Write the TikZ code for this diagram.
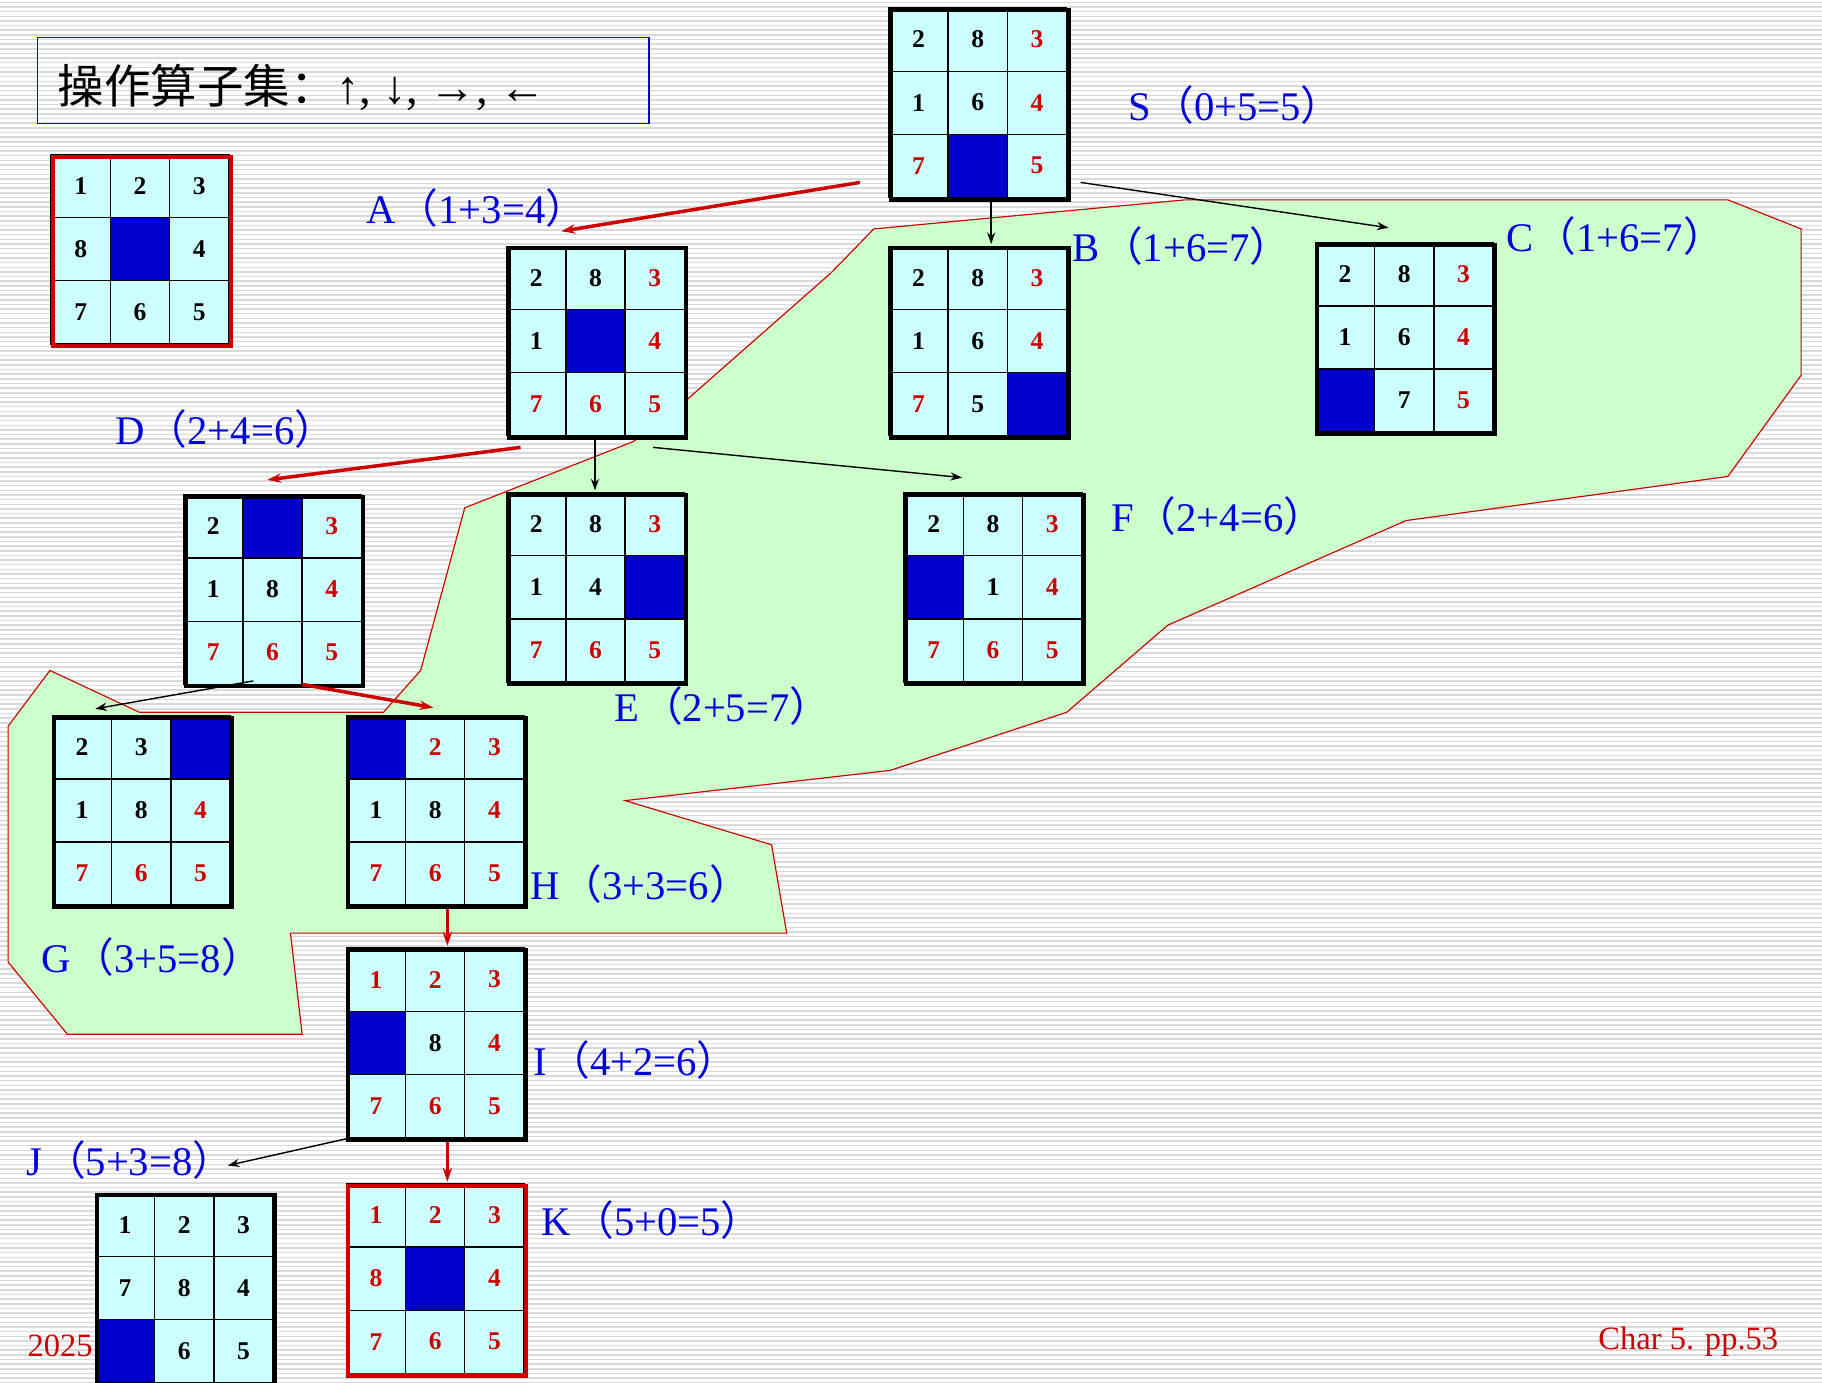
\documentclass[tikz,border=0pt]{standalone}
\usepackage{fontspec}
\setmainfont{Liberation Serif}
\newfontfamily\cjk{Noto Sans CJK SC}
\usetikzlibrary{arrows.meta}
\definecolor{cellcyan}{RGB}{204,255,255}
\definecolor{blankblue}{RGB}{0,0,204}
\definecolor{numred}{RGB}{204,0,0}
\definecolor{lblblue}{RGB}{0,0,220}
\definecolor{zonegreen}{RGB}{204,255,204}
\tikzset{every picture/.style={line width=0.75pt}}
\tikzset{
  lbl/.style={anchor=west,inner sep=0.75pt,text=lblblue,font=\fontsize{35}{37}\selectfont},
  blackarr/.style={-{Stealth[length=10pt,width=7pt]},line width=1.2pt},
  redarr/.style={-{Stealth[length=12pt,width=8pt]},line width=3pt,color=numred},
}
% one 8-puzzle board: name, x, y, frame colour, cells value/colour (0 = blank)
\newcommand{\puzzle}[5]{%
  \foreach \v/\c [count=\i from 0] in {#5}{%
    \pgfmathtruncatemacro{\col}{mod(\i,3)}%
    \pgfmathtruncatemacro{\row}{\i/3}%
    \pgfmathsetmacro{\cx}{#2+51*\col}%
    \pgfmathsetmacro{\cy}{#3+54.3*\row}%
    \ifnum\v=0
      \draw[fill=blankblue,line width=1.2pt] (\cx,\cy) rectangle ++(51,54.3);
    \else
      \draw[fill=cellcyan,line width=1.2pt] (\cx,\cy) rectangle ++(51,54.3);
      \node[text=\c,font=\bfseries\fontsize{22}{24}\selectfont] at (\cx+25.5,\cy+27) {\v};
    \fi
  }%
  \node[draw=#4,line width=3.5pt,minimum width=153pt,minimum height=163pt,
        anchor=north west,inner sep=0pt] (#1) at (#2,#3) {};
}
\newcommand{\pl}[1]{\hspace{2pt}{\cjk（}#1{\cjk ）}}
\begin{document}
\begin{tikzpicture}[x=1pt,y=1pt,yscale=-1]
\useasboundingbox (0,0) rectangle (1568,1190);
\fill[white] (0,0) rectangle (1568,1190);
\foreach \y in {2,6,...,1190}
  \draw[gray!30,line width=1.3pt] (0,\y) -- (1568,\y);

% shaded zone
\draw[numred,fill=zonegreen,line width=1pt] (752,197) -- (1020,172) -- (1487,172) -- (1550,197)
  -- (1550,323) -- (1487,410) -- (1210,448) -- (1005,538) -- (918,613) -- (766,663)
  -- (538,689) -- (664,727) -- (677,803) -- (250,803) -- (260,890) -- (58,890)
  -- (7,828) -- (7,625) -- (43,577) -- (120,613) -- (330,613) -- (362,577)
  -- (400,437) -- (545,380) -- (590,345) -- (715,235) -- cycle;

% operator box
\node[draw=lblblue,line width=1pt,minimum width=526pt,minimum height=74pt,anchor=north west,
      inner sep=0pt] (ops) at (32,32) {};
\node[anchor=west,font=\fontsize{40}{42}\selectfont] (opstext) at (46,75) {{\cjk 操作算子集：}↑, ↓, →, ←};

\node[anchor=west,text=numred,font=\fontsize{28}{30}\selectfont] (year) at (20,1158) {2025};
\node[anchor=east,text=numred,font=\fontsize{28}{30}\selectfont] (page) at (1534,1155) {Char 5. pp.53};

\puzzle{goal}{44}{133}{numred}{1/black,2/black,3/black,8/black,0/black,4/black,7/black,6/black,5/black}
\puzzle{S}{765}{7}{black}{2/black,8/black,3/numred,1/black,6/black,4/numred,7/numred,0/black,5/numred}
\puzzle{A}{436}{212}{black}{2/black,8/black,3/numred,1/black,0/black,4/numred,7/numred,6/numred,5/numred}
\puzzle{B}{765}{212}{black}{2/black,8/black,3/numred,1/black,6/black,4/numred,7/numred,5/black,0/black}
\puzzle{C}{1132}{209}{black}{2/black,8/black,3/numred,1/black,6/black,4/numred,0/black,7/black,5/numred}
\puzzle{D}{158}{426}{black}{2/black,0/black,3/numred,1/black,8/black,4/numred,7/numred,6/numred,5/numred}
\puzzle{E}{436}{424}{black}{2/black,8/black,3/numred,1/black,4/black,0/black,7/numred,6/numred,5/numred}
\puzzle{F}{778}{424}{black}{2/black,8/black,3/numred,0/black,1/black,4/numred,7/numred,6/numred,5/numred}
\puzzle{G}{45}{616}{black}{2/black,3/black,0/black,1/black,8/black,4/numred,7/numred,6/numred,5/numred}
\puzzle{H}{298}{616}{black}{0/black,2/numred,3/numred,1/black,8/black,4/numred,7/numred,6/numred,5/numred}
\puzzle{I}{298}{816}{black}{1/numred,2/numred,3/numred,0/black,8/black,4/numred,7/numred,6/numred,5/numred}
\puzzle{J}{82}{1027}{black}{1/black,2/black,3/black,7/black,8/black,4/black,0/black,6/black,5/black}
\puzzle{K}{298}{1019}{numred}{1/numred,2/numred,3/numred,8/numred,0/black,4/numred,7/numred,6/numred,5/numred}

% labels
\node[lbl] (lS) at (970,90) {S\pl{0+5=5}};
\node[lbl] (lA) at (314,179) {A\pl{1+3=4}};
\node[lbl] (lB) at (922,212) {B\pl{1+6=7}};
\node[lbl] (lC) at (1295,203) {C\pl{1+6=7}};
\node[lbl] (lD) at (98,369) {D\pl{2+4=6}};
\node[lbl] (lE) at (528,608) {E\pl{2+5=7}};
\node[lbl] (lF) at (955,444) {F\pl{2+4=6}};
\node[lbl] (lG) at (35,824) {G\pl{3+5=8}};
\node[lbl] (lH) at (455,761) {H\pl{3+3=6}};
\node[lbl] (lI) at (458,912) {I\pl{4+2=6}};
\node[lbl] (lJ) at (22,998) {J\pl{5+3=8}};
\node[lbl] (lK) at (465,1050) {K\pl{5+0=5}};

% search edges
\coordinate (sa) at (740,157); \coordinate (ta) at (483,199);
\coordinate (sc) at (930,157); \coordinate (tc) at (1195,196);
\coordinate (ad) at (448,385); \coordinate (td) at (230,413);
\coordinate (af) at (562,385); \coordinate (tf) at (828,411);
\coordinate (dg) at (218,586); \coordinate (tg) at (82,610);
\coordinate (dh) at (260,589); \coordinate (th) at (373,609);
\coordinate (ij) at (298,980); \coordinate (tj) at (196,1003);
\draw[redarr] (sa) -- (ta);
\draw[blackarr] (S.south -| 853,0) -- ([yshift=-2pt]B.north -| 853,0);
\draw[blackarr] (sc) -- (tc);
\draw[redarr] (ad) -- (td);
\draw[blackarr] (512,377) -- ([yshift=-2pt]E.north -| 512,0);
\draw[blackarr] (af) -- (tf);
\draw[blackarr] (dg) -- (tg);
\draw[redarr] (dh) -- (th);
\draw[redarr] (H.south -| 385,0) -- ([yshift=-2pt]I.north -| 385,0);
\draw[blackarr] (ij) -- (tj);
\draw[redarr] (I.south -| 385,0) -- ([yshift=-2pt]K.north -| 385,0);
\end{tikzpicture}
\end{document}
